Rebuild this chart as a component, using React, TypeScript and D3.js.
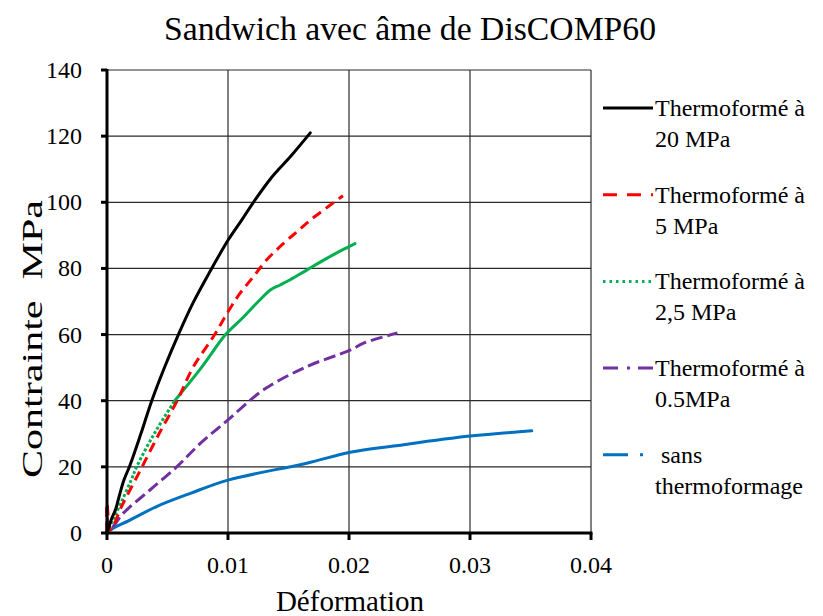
import React from "react";
import * as d3 from "d3";

const title = "Sandwich avec âme de DisCOMP60";
const xLabel = "Déformation";
const yLabel = "Contrainte  MPa";

const xTicks = [0, 0.01, 0.02, 0.03, 0.04];
const yTicks = [0, 20, 40, 60, 80, 100, 120, 140];

const names = [
  ["Thermoformé à", "20 MPa"],
  ["Thermoformé à", "5 MPa"],
  ["Thermoformé à", "2,5 MPa"],
  ["Thermoformé à", "0.5MPa"],
  [" sans", "thermoformage"],
];

const x20 = [0, 0.0004, 0.0007, 0.001, 0.0014, 0.0019, 0.0028, 0.0037, 0.0048, 0.0059, 0.0071, 0.0085, 0.01, 0.0112, 0.0121, 0.0136, 0.0152, 0.0168];
const y20 = [0, 4.5, 7, 11, 16, 20.5, 30, 40, 50.5, 60, 69.5, 79, 88.5, 95, 100, 107.5, 114, 121];

const x5 = [0, 0, 0.0003, 0.0012, 0.0024, 0.0029, 0.0043, 0.0058, 0.0071, 0.0089, 0.01, 0.011, 0.0121, 0.0132, 0.0146, 0.0157, 0.0168, 0.0182, 0.0195];
const y5 = [0, 9, 1, 8, 16.5, 20, 30, 40, 50, 60, 66.9, 72.5, 77.5, 82.6, 87.6, 91.1, 94.6, 98.5, 102];

const x25 = [0, 0.0005, 0.0012, 0.002, 0.00245, 0.0039, 0.0056, 0.0078, 0.0098, 0.0112, 0.0125, 0.0135, 0.0143, 0.0151, 0.0165, 0.0179, 0.0193, 0.0205];
const y25 = [0, 4, 9.5, 16, 20, 30, 40, 50, 60, 65, 70, 73.5, 75, 76.5, 79.5, 82.5, 85.3, 87.5];

const x05 = [0, 0, 0.0002, 0.00135, 0.00355, 0.00576, 0.00769, 0.01, 0.0129, 0.0165, 0.0201, 0.0212, 0.024];
const y05 = [0, 7.5, 1, 6, 13, 20, 27, 34.2, 43.2, 50.3, 55.3, 57.4, 60.5];

const x0 = [0, 0.00025, 0.0019, 0.0041, 0.0069, 0.01, 0.0165, 0.0201, 0.0239, 0.03, 0.0351];
const y0 = [0, 0.9, 3.9, 8, 12, 16, 21.1, 24.4, 26.4, 29.3, 30.9];

const W = 823;
const H = 616;
const FONT = "Liberation Serif, Times New Roman, serif";

export default function App() {
  const x = d3.scaleLinear().domain([0, 0.04]).range([107, 591]);
  const y = d3.scaleLinear().domain([0, 140]).range([533, 70]);
  const line = d3
    .line<[number, number]>()
    .x((d) => x(d[0]))
    .y((d) => y(d[1]))
    .curve(d3.curveCatmullRom.alpha(0.5));

  const zip = (a: number[], b: number[]) => a.map((v, i) => [v, b[i]] as [number, number]);
  const p20 = zip(x20, y20);
  const p5 = zip(x5, y5);
  const p25 = zip(x25, y25);
  const p05 = zip(x05, y05);
  const p0 = zip(x0, y0);
  const p25lo = p25.filter((d) => d[1] <= 40);
  const p25hi = p25.filter((d) => d[1] >= 40);

  const fmtX = (v: number) => (v === 0 ? "0" : d3.format(".2f")(v));

  const legendStyles = [
    { color: "#000000", dash: "none" },
    { color: "#ff0000", dash: "14,10" },
    { color: "#00b050", dash: "2.5,4" },
    { color: "#7030a0", dash: "15,9,3,8" },
    { color: "#0070c0", dash: "25,12,3,10" },
  ];
  const legendY0 = 108;
  const legendStep = 86.7;
  const tf = { fontFamily: FONT };

  return (
    <svg
      width={W}
      height={H}
      style={{ position: "absolute", left: 0, top: 0, background: "#fff", fontFamily: FONT }}
    >
      <rect x={0} y={0} width={W} height={H} fill="#fff" />
      <text x={410} y={40} fontSize={34} textAnchor="middle" fill="#000" style={tf} textLength={492} lengthAdjust="spacingAndGlyphs">
        {title}
      </text>

      {yTicks.filter((t) => t > 0).map((t) => (
        <line key={"gy" + t} x1={x(0)} x2={x(0.04)} y1={y(t)} y2={y(t)} stroke="#2a2a2a" strokeWidth={1.2} />
      ))}
      {xTicks.filter((t) => t > 0).map((t) => (
        <line key={"gx" + t} x1={x(t)} x2={x(t)} y1={y(0)} y2={y(140)} stroke="#2a2a2a" strokeWidth={1.2} />
      ))}

      <path d={line(p0) || ""} fill="none" stroke="#0070c0" strokeWidth={3} strokeLinejoin="round" strokeLinecap="round" />
      <path d={line(p05) || ""} fill="none" stroke="#7030a0" strokeWidth={3} strokeDasharray="12,5" strokeLinejoin="round" />
      <path d={line(p25lo) || ""} fill="none" stroke="#00b050" strokeWidth={3} strokeDasharray="3,2" />
      <path d={line(p25hi) || ""} fill="none" stroke="#00b050" strokeWidth={3} strokeLinejoin="round" strokeLinecap="round" />
      <path d={line(p5) || ""} fill="none" stroke="#ff0000" strokeWidth={3} strokeDasharray="10,6" strokeLinejoin="round" />
      <path d={line(p20) || ""} fill="none" stroke="#000" strokeWidth={3} strokeLinejoin="round" strokeLinecap="round" />

      <line x1={x(0)} x2={x(0)} y1={y(0) + 1.5} y2={y(140) - 1} stroke="#000" strokeWidth={3} />
      <line x1={x(0) - 1.5} x2={x(0.04) + 1.5} y1={y(0)} y2={y(0)} stroke="#000" strokeWidth={3} />
      {yTicks.map((t) => (
        <g key={"ty" + t}>
          <line x1={x(0) - 6} x2={x(0)} y1={y(t)} y2={y(t)} stroke="#000" strokeWidth={3} />
          <text x={82} y={y(t) + 8} fontSize={24} textAnchor="end" fill="#000" style={tf}>
            {t}
          </text>
        </g>
      ))}
      {xTicks.map((t) => (
        <g key={"tx" + t}>
          <line x1={x(t)} x2={x(t)} y1={y(0)} y2={y(0) + 7} stroke="#000" strokeWidth={3} />
          <text x={x(t)} y={573} fontSize={24} textAnchor="middle" fill="#000" style={tf}>
            {fmtX(t)}
          </text>
        </g>
      ))}

      <text x={350} y={611} fontSize={29} textAnchor="middle" fill="#000" style={tf}>
        {xLabel}
      </text>
      <text
        transform={`translate(42, 339) rotate(-90)`}
        fontSize={30}
        textAnchor="middle"
        fill="#000"
        textLength={278}
        lengthAdjust="spacingAndGlyphs"
        style={{ whiteSpace: "pre", fontFamily: FONT }}
      >
        {yLabel}
      </text>

      {names.map((n, i) => {
        const ly = legendY0 + i * legendStep;
        const s = legendStyles[i];
        return (
          <g key={"lg" + i}>
            <line x1={603} x2={653} y1={ly} y2={ly} stroke={s.color} strokeWidth={3} strokeDasharray={s.dash} />
            <text x={655} y={ly + 8} fontSize={24} fill="#000" style={{ whiteSpace: "pre", fontFamily: FONT }}>
              {n[0]}
            </text>
            <text x={655} y={ly + 39} fontSize={24} fill="#000" style={tf}>
              {n[1]}
            </text>
          </g>
        );
      })}
    </svg>
  );
}
